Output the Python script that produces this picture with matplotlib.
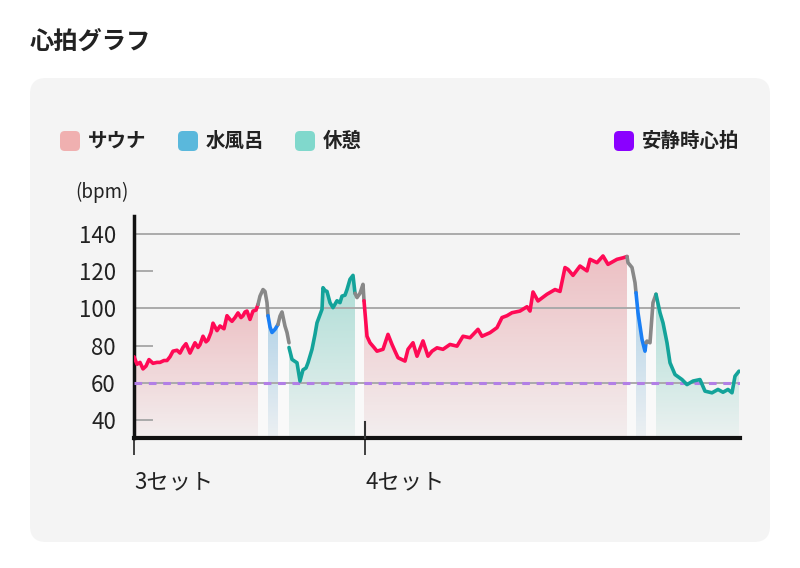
import numpy as np
import matplotlib
matplotlib.use("Agg")
import matplotlib.pyplot as plt
from matplotlib.patches import FancyBboxPatch, PathPatch
from matplotlib.transforms import blended_transform_factory

plt.rcParams['font.family'] = ['Noto Sans CJK JP', 'DejaVu Sans']

# ---- data (time in minutes from start of set 3, heart rate in bpm) ----
sauna1_t = [0.0, 0.3, 0.6, 0.9, 1.2, 1.5, 1.9, 2.3, 2.6, 3.0, 3.3, 3.6, 3.9, 4.3, 4.6, 4.9, 5.2, 5.6,
            6.1, 6.4, 6.6, 6.9, 7.2, 7.4, 7.7, 7.9, 8.3, 8.6, 9.0, 9.3, 9.6, 9.8, 10.1, 10.4, 10.7,
            10.9, 11.1, 11.3, 11.6, 11.9, 12.2, 12.4]
sauna1_hr = [74, 70, 71, 67.5, 69, 72.5, 70.5, 71, 71, 72, 72, 74, 77, 77.5, 76, 79, 81, 76,
             81.5, 79, 80.5, 85, 82, 83, 87, 92, 88, 90.5, 89, 96, 94, 93, 95, 97.5, 95,
             96, 98, 98.5, 94, 98.5, 99, 102]
gap1_t = [12.4, 12.6, 12.9, 13.1, 13.3, 13.4]
gap1_hr = [102, 106.5, 110, 109, 103, 96]
water1_t = [13.4, 13.6, 13.8, 14.1, 14.4]
water1_hr = [96, 90, 87, 88.7, 91.3]
gap2_t = [14.4, 14.6, 14.8, 15.1, 15.3, 15.5]
gap2_hr = [91.3, 95.8, 98, 90.4, 87, 81.5]
rest1_t = [15.5, 15.8, 16.1, 16.3, 16.6, 16.9, 17.2, 17.4, 17.8, 18.1, 18.3, 18.8, 18.9, 19.1,
           19.3, 19.6, 19.9, 20.3, 20.6, 20.8, 21.1, 21.3, 21.6, 21.9, 22.1]
rest1_hr = [79, 72.6, 71.5, 70.8, 61, 67, 68, 70.8, 78, 86, 92.2, 99.4, 111, 109.5,
            109, 103, 100.3, 104, 103, 106.5, 107, 110, 115.5, 117.6, 108]
gap3_t = [22.1, 22.3, 22.6, 22.9, 23.0]
gap3_hr = [108, 105.7, 108, 112.8, 104]
sauna2_t = [23.0, 23.3, 23.6, 24.0, 24.3, 24.9, 25.4, 25.8, 26.1, 26.4, 27.1, 27.4, 27.9, 28.3,
            28.9, 29.4, 29.8, 30.3, 30.9, 31.6, 32.3, 32.9, 33.6, 34.4, 34.8, 35.6, 36.3, 36.8,
            37.3, 37.8, 38.6, 39.3, 39.6, 39.9, 40.4, 41.3, 42.1, 42.6, 43.1, 43.4, 43.9, 44.6,
            45.3, 45.6, 46.3, 46.9, 47.4, 48.3, 48.9, 49.3]
sauna2_hr = [104, 85, 81.5, 79, 77, 78, 86, 80.6, 77, 73.5, 71.7, 78, 81.5, 74.3,
             82.5, 74.3, 77, 78.8, 78, 80.6, 79.7, 85, 84.2, 88.7, 85, 86.9, 89.6, 95,
             96, 97.6, 98.5, 100.8, 98.5, 108.7, 103.9, 107.5, 110, 109, 121.8, 120.8, 117.6, 122.6,
             120, 126.2, 124.4, 128, 123.5, 126.2, 127, 127.7]
gap4_t = [49.3, 49.4, 49.8, 50.1, 50.2]
gap4_hr = [127.7, 124.4, 121.8, 113.7, 108.3]
water2_t = [50.2, 50.4, 50.8, 51.1, 51.2]
water2_hr = [108.3, 97.6, 83.3, 77, 81.5]
gap5_t = [51.2, 51.3, 51.6, 51.9, 52.2]
gap5_hr = [81.5, 82.4, 81.5, 103, 107.5]
rest2_t = [52.2, 52.6, 52.9, 53.3, 53.6, 54.1, 54.8, 55.3, 55.9, 56.6, 57.1, 57.8, 58.4,
           58.9, 59.4, 59.8, 60.1, 60.5]
rest2_hr = [107.5, 97.6, 92.2, 81.5, 70.8, 64.5, 61.8, 59.1, 61, 61.8, 55.6, 54.7, 56.5,
            55, 56.5, 54.7, 63.6, 66.3]

resting_hr = 60
set_ticks = [0, 23.1]
set_labels = ["3セット", "4セット"]
y_ticks = [40, 60, 80, 100, 120, 140]
legend_labels = ["サウナ", "水風呂", "休憩"]
legend_resting = "安静時心拍"

segments = [("sauna", sauna1_t, sauna1_hr), ("gap", gap1_t, gap1_hr),
            ("water", water1_t, water1_hr), ("gap", gap2_t, gap2_hr),
            ("rest", rest1_t, rest1_hr), ("gap", gap3_t, gap3_hr),
            ("sauna", sauna2_t, sauna2_hr), ("gap", gap4_t, gap4_hr),
            ("water", water2_t, water2_hr), ("gap", gap5_t, gap5_hr),
            ("rest", rest2_t, rest2_hr)]

line_colors = {"sauna": "#ff0a55", "water": "#1a7ff5", "rest": "#13a39a", "gap": "#888888"}
fill_colors = {"sauna": (0.90, 0.55, 0.58), "water": (0.45, 0.70, 0.86),
               "rest": (0.40, 0.78, 0.72), "gap": (1.0, 1.0, 1.0)}
legend_colors = ["#f0b0b0", "#5ab8dc", "#80d8cc"]

YMIN, YMAX = 30.5, 149.4
XMAX = 60.6

fig = plt.figure(figsize=(8, 5.68), dpi=100)
fig.patch.set_facecolor("white")

# panel background
W, H = 800, 568
panel = FancyBboxPatch((30 / W, (H - 542) / H), 740 / W, 464 / H,
                       boxstyle="round,pad=0,rounding_size=0.02",
                       transform=fig.transFigure, fc="#f4f4f4", ec="none", zorder=-5,
                       mutation_aspect=W / H)
fig.patches.append(panel)

fig.text(30 / W, 1 - 42 / H, "心拍グラフ", fontsize=17.5, fontweight="bold",
         va="center", ha="left", color="#222222")

# legend
def legend_box(x, color):
    fig.patches.append(FancyBboxPatch((x / W, 1 - 151 / H), 20 / W, 20 / H,
                                      boxstyle="round,pad=0,rounding_size=0.006",
                                      transform=fig.transFigure, fc=color, ec="none",
                                      mutation_aspect=W / H, zorder=-4))

for lx, col, lab in zip([60, 178, 295], legend_colors, legend_labels):
    legend_box(lx, col)
    fig.text((lx + 28) / W, 1 - 141 / H, lab, fontsize=14, fontweight="bold",
             va="center", ha="left", color="#222222")
legend_box(614, "#8a00ff")
fig.text(642 / W, 1 - 141 / H, legend_resting, fontsize=14, fontweight="bold",
         va="center", ha="left", color="#222222")

ax = fig.add_axes([134 / W, (H - 438) / H, 606 / W, 222 / H])
ax.set_facecolor("none")
ax.set_zorder(2)

# gridlines and inner ticks
for v in [60, 100, 140]:
    ax.axhline(v, color="#aaaaaa", lw=1.4, zorder=2)
trans = blended_transform_factory(ax.transAxes, ax.transData)
for v in [40, 80, 120]:
    ax.plot([0, 0.03], [v, v], color="#aaaaaa", lw=1.4, transform=trans, zorder=2)

# gradient fills under each segment
for kind, t, hr in segments:
    poly = ax.fill_between(t, hr, YMIN, color="none", lw=0)
    patch = PathPatch(poly.get_paths()[0], transform=ax.transData, fc="none", ec="none")
    ax.add_patch(patch)
    grad = np.zeros((100, 1, 4))
    grad[..., :3] = fill_colors[kind]
    if kind == "gap":
        grad[..., 3] = 0.5
    else:
        grad[..., 3] = np.linspace(0.5, 0.06, 100)[:, None]
    im = ax.imshow(grad, extent=[min(t), max(t), YMIN, max(hr)], origin="upper",
                   aspect="auto", zorder=1, interpolation="bilinear")
    im.set_clip_path(patch)

ax.axhline(resting_hr, color="#b27fe6", lw=2.2, linestyle=(0, (2.5, 2.2)), zorder=3)

for kind, t, hr in segments:
    ax.plot(t, hr, color=line_colors[kind], lw=2.6, zorder=4,
            solid_joinstyle="round", solid_capstyle="round")

ax.set_xlim(0, XMAX)
ax.set_ylim(YMIN, YMAX)

for s in ["top", "right"]:
    ax.spines[s].set_visible(False)
ax.spines["left"].set_linewidth(2.5)
ax.spines["bottom"].set_linewidth(3)
ax.spines["left"].set_color("#111111")
ax.spines["bottom"].set_color("#111111")

ax.set_yticks(y_ticks)
ax.set_yticklabels([str(v) for v in y_ticks])
ax.tick_params(axis="y", length=0, pad=13, labelsize=16, labelcolor="#222222")
ax.set_xticks(set_ticks)
ax.set_xticklabels(set_labels)
ax.tick_params(axis="x", length=12, width=1.3, color="#333333", pad=11,
               labelsize=16, labelcolor="#222222")
for lbl in ax.get_xticklabels():
    lbl.set_horizontalalignment("left")
# set 4 tick crosses into the plot
ax.plot([set_ticks[1], set_ticks[1]], [30.5, 39], color="#333333", lw=1.5, zorder=5,
        clip_on=False)

fig.text(75 / W, 1 - 192 / H, "(bpm)", fontsize=13.5, va="center", ha="left", color="#222222")

fig.savefig("out.png", dpi=100)
